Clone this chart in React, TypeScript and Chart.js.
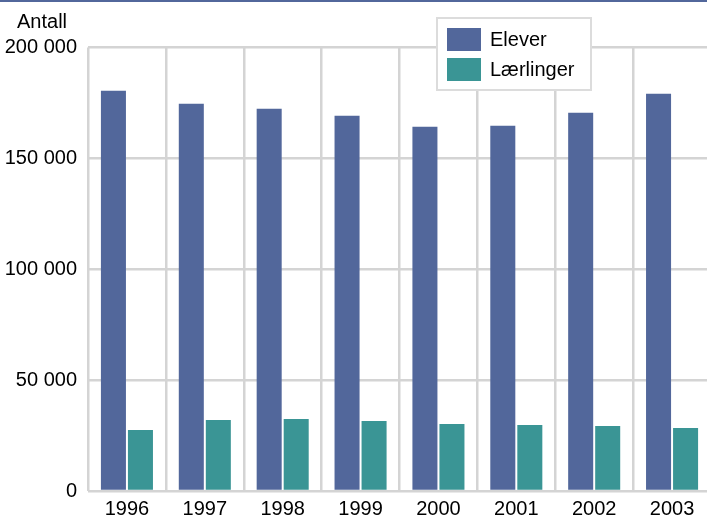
import React, { useEffect, useRef } from "react";
import { Chart, registerables } from "chart.js";

Chart.register(...registerables);

const categories = ["1996", "1997", "1998", "1999", "2000", "2001", "2002", "2003"];
const elever = [180500, 174600, 172400, 169200, 164300, 164700, 170600, 179100];
const laerlinger = [27500, 32000, 32500, 31600, 30200, 29800, 29300, 28400];
const seriesNames = ["Elever", "Lærlinger"];
const seriesColors = ["#52679b", "#3a9595"];
const yTicks = [0, 50000, 100000, 150000, 200000];
const yAxisTitle = "Antall";

const FONT = "'Liberation Sans', Arial, sans-serif";
const FS = 20;

const fmt = (v: number) => {
  const s = String(Math.round(v));
  return s.replace(/\B(?=(\d{3})+(?!\d))/g, " ");
};

const overlayPlugin = {
  id: "overlay",
  afterDraw(chart: any) {
    const ctx = chart.ctx;
    ctx.save();
    ctx.font = `${FS}px ${FONT}`;
    ctx.fillStyle = "#000";
    ctx.textAlign = "left";
    ctx.textBaseline = "middle";
    ctx.fillText(yAxisTitle, 17, 22);
    ctx.fillStyle = "#ffffff";
    ctx.fillRect(437, 18, 154, 72);
    ctx.strokeStyle = "#dcdcdc";
    ctx.lineWidth = 2;
    ctx.strokeRect(437, 18, 154, 72);
    chart.data.datasets.forEach((ds: any, i: number) => {
      const y = 28 + i * 30;
      ctx.fillStyle = ds.backgroundColor;
      ctx.fillRect(447, y, 34, 23);
      ctx.fillStyle = "#000";
      ctx.font = `${FS}px ${FONT}`;
      ctx.textBaseline = "middle";
      ctx.fillText(ds.label, 490, y + 12);
    });
    ctx.restore();
  },
};

export default function App() {
  const ref = useRef<HTMLCanvasElement>(null);
  useEffect(() => {
    document.body.style.margin = "0";
    const chart = new Chart(ref.current!, {
      type: "bar",
      data: {
        labels: categories,
        datasets: [
          { label: seriesNames[0], data: elever, backgroundColor: seriesColors[0] },
          { label: seriesNames[1], data: laerlinger, backgroundColor: seriesColors[1] },
        ],
      },
      options: {
        responsive: false,
        animation: false,
        layout: { padding: { top: 47.5, right: 0, left: 0, bottom: 0 } },
        datasets: {
          bar: { categoryPercentage: 0.694, barPercentage: 0.926 },
        },
        plugins: { legend: { display: false }, tooltip: { enabled: false } },
        scales: {
          x: {
            grid: { offset: true, color: "#d4d4d4", lineWidth: 2.5, drawTicks: false },
            border: { display: false },
            ticks: { color: "#000", font: { family: FONT, size: FS }, padding: 6 },
            afterFit: (s: any) => { s.height = 27; },
          },
          y: {
            min: 0,
            max: 200000,
            afterBuildTicks: (s: any) => { s.ticks = yTicks.map((v) => ({ value: v })); },
            grid: { color: "#d4d4d4", lineWidth: 2.5, drawTicks: false },
            border: { display: false },
            ticks: { color: "#000", font: { family: FONT, size: FS }, padding: 11, callback: (v: any) => fmt(Number(v)) },
            afterFit: (s: any) => { s.width = 88; },
          },
        },
      },
      plugins: [overlayPlugin],
    });
    return () => chart.destroy();
  }, []);
  return (
    <div style={{ position: "relative", width: 707, height: 518, overflow: "hidden", background: "#fff" }}>
      <canvas ref={ref} width={711} height={518} style={{ display: "block", width: 711, height: 518 }} />
      <div style={{ position: "absolute", left: 0, top: 0, width: 707, height: 2, background: "#52679b" }} />
    </div>
  );
}
